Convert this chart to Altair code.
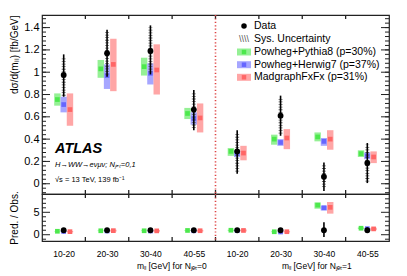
import altair as alt
import pandas as pd

# ---------------- data ----------------
bins = ["10-20", "20-30", "30-40", "40-55", "10-20", "20-30", "30-40", "40-55"]

data_val = [0.975, 1.17, 1.19, 0.665, 0.29, 0.61, 0.063, 0.186]
data_lo = [0.78, 0.96, 0.98, 0.48, 0.09, 0.43, -0.065, 0.006]
data_hi = [1.16, 1.38, 1.42, 0.84, 0.48, 0.79, 0.19, 0.365]
sys_lo = [0.79, 0.98, 1.00, 0.50, 0.11, 0.45, -0.03, 0.02]
sys_hi = [1.13, 1.36, 1.40, 0.82, 0.46, 0.77, 0.17, 0.35]

p8_val = [0.755, 1.03, 1.05, 0.63, 0.29, 0.40, 0.42, 0.27]
p8_lo = [0.70, 0.95, 0.97, 0.58, 0.25, 0.35, 0.38, 0.24]
p8_hi = [0.81, 1.11, 1.13, 0.68, 0.32, 0.44, 0.46, 0.30]
h7_val = [0.71, 0.97, 0.99, 0.585, 0.27, 0.37, 0.38, 0.25]
h7_lo = [0.64, 0.85, 0.89, 0.53, 0.24, 0.34, 0.34, 0.22]
h7_hi = [0.78, 1.07, 1.08, 0.64, 0.30, 0.40, 0.41, 0.28]
mg_val = [0.665, 1.07, 1.02, 0.59, 0.275, 0.41, 0.40, 0.24]
mg_lo = [0.52, 0.83, 0.80, 0.46, 0.21, 0.31, 0.305, 0.185]
mg_hi = [0.81, 1.30, 1.25, 0.72, 0.34, 0.49, 0.48, 0.29]

# ratio panel (Pred. / Obs.)
r_data_val = [1, 1, 1, 1, 1, 1, 1, 1]
r_data_lo = [0.82, 0.84, 0.84, 0.75, 0.5, 0.72, -0.5, 0.4]
r_data_hi = [1.18, 1.16, 1.16, 1.25, 1.5, 1.28, 2.8, 1.6]
r_p8_val = [0.77, 0.88, 0.88, 0.95, 1.0, 0.66, 6.6, 1.45]
r_p8_lo = [0.72, 0.81, 0.82, 0.87, 0.86, 0.57, 5.8, 1.30]
r_p8_hi = [0.83, 0.95, 0.95, 1.02, 1.10, 0.74, 7.2, 1.61]
r_h7_val = [0.73, 0.83, 0.83, 0.88, 0.93, 0.61, 6.0, 1.35]
r_h7_lo = [0.66, 0.73, 0.75, 0.80, 0.83, 0.56, 5.4, 1.18]
r_h7_hi = [0.80, 0.91, 0.91, 0.96, 1.03, 0.66, 6.5, 1.50]
r_mg_val = [0.68, 0.91, 0.86, 0.89, 0.95, 0.67, 6.1, 1.30]
r_mg_lo = [0.53, 0.71, 0.67, 0.69, 0.72, 0.51, 4.7, 1.00]
r_mg_hi = [0.83, 1.11, 1.05, 1.08, 1.17, 0.80, 7.3, 1.56]

models = ["Powheg+Pythia8 (p=30%)", "Powheg+Herwig7 (p=37%)", "MadgraphFxFx (p=31%)"]
main_major = [0, 0.2, 0.4, 0.6, 0.8, 1.0, 1.2, 1.4]
main_minor = [round(-0.08 + 0.04 * i, 2) for i in range(40)]
ratio_major = [0, 5]
ratio_minor = [-1, 1, 2, 3, 4, 6, 7, 8, 9]
boundaries = [1, 2, 3, 4, 5, 6, 7]
divider = [4]

# ---------------- style ----------------
FONT = "Liberation Sans"
W, H_MAIN, H_RATIO = 347, 179, 47
outer_cols = ["#95f095", "#a6a6ff", "#ffa6a6"]
inner_cols = ["#4de84d", "#6666ff", "#ff6666"]
offsets = [-0.145, 0.0, 0.145]
half_w = 0.074
x_scale_dom = [0, 8]
label_js = "[" + ",".join("'" + b + "'" for b in bins) + "]"

main_yaxis = alt.Axis(values=main_major, labelExpr="format(datum.value, '.1~f')",
                      ticks=False, domain=False, grid=False, labelFontSize=11,
                      labelPadding=3, labelFont=FONT, labelOverlap=False,
                      labelColor="black",
                      title="dσ/d(mₗₗ) [fb/GeV]", titleFont=FONT, titleFontSize=10,
                      titleFontWeight="normal", titleX=-28, titleY=0,
                      titleColor="black",
                      titleAngle=270, titleAlign="right", titleBaseline="middle")
ratio_yaxis = alt.Axis(values=ratio_major, labelExpr="format(datum.value, 'd')",
                       ticks=False, domain=False, grid=False, labelFontSize=11,
                       labelPadding=3, labelFont=FONT, labelOverlap=False,
                       labelColor="black",
                       title="Pred. / Obs.", titleFont=FONT, titleFontSize=10,
                       titleFontWeight="normal", titleX=-28, titleY=H_RATIO / 2,
                       titleColor="black",
                       titleAngle=270, titleAlign="center", titleBaseline="middle")
ratio_xaxis = alt.Axis(values=[i + 0.5 for i in range(8)],
                       labelExpr=label_js + "[floor(datum.value)]",
                       ticks=False, domain=False, grid=False, labelFontSize=8.5,
                       labelFont=FONT, labelPadding=8, title=None,
                       labelOverlap=False, labelColor="black")


def model_frame(vals, los, his, k):
    return pd.DataFrame({
        "xc": [i + 0.5 + offsets[k] for i in range(8)],
        "x1": [i + 0.5 + offsets[k] - half_w for i in range(8)],
        "x2": [i + 0.5 + offsets[k] + half_w for i in range(8)],
        "val": vals, "lo": los, "hi": his,
    })


def panel(ydom, preds, dval, dlo, dhi, slo, shi, major, minor, height, xax, yax):
    xs = alt.Scale(domain=x_scale_dom, nice=False, zero=False)
    ys = alt.Scale(domain=ydom, nice=False, zero=False)

    def X(f):
        return alt.X(f, scale=xs, axis=xax)

    def Y(f):
        return alt.Y(f, scale=ys, axis=yax)

    layers = []
    for k, (v, lo, hi) in enumerate(preds):
        df = model_frame(v, lo, hi, k)
        base = alt.Chart(df)
        layers.append(base.mark_rect(color=outer_cols[k]).encode(
            x=X("x1:Q"), x2="x2:Q", y=Y("lo:Q"), y2="hi:Q"))
        layers.append(base.mark_square(size=22, color=inner_cols[k], opacity=1).encode(
            x=X("xc:Q"), y=Y("val:Q")))
    ddf = pd.DataFrame({"xc": [i + 0.5 for i in range(8)], "val": dval,
                        "lo": dlo, "hi": dhi})
    if slo is not None:
        sdf = pd.DataFrame({"xc": [i + 0.5 for i in range(8)], "lo": slo, "hi": shi})
        layers.append(alt.Chart(sdf).mark_rule(
            strokeWidth=4, strokeDash=[0.8, 1.8], color="#666", strokeCap="butt").encode(
            x=X("xc:Q"), y=Y("lo:Q"), y2="hi:Q"))
    layers.append(alt.Chart(ddf).mark_rule(strokeWidth=1.6, color="black").encode(
        x=X("xc:Q"), y=Y("lo:Q"), y2="hi:Q"))
    layers.append(alt.Chart(ddf).mark_circle(size=34, color="black", opacity=1).encode(
        x=X("xc:Q"), y=Y("val:Q")))
    # ticks (inward, ROOT style)
    for vals_, ln in ((major, 8), (minor, 4)):
        tdf = pd.DataFrame({"v": vals_})
        layers.append(alt.Chart(tdf).mark_rule(color="#222", strokeWidth=1).encode(
            y=Y("v:Q"), x=alt.value(0), x2=alt.value(ln)))
        layers.append(alt.Chart(tdf).mark_rule(color="#222", strokeWidth=1).encode(
            y=Y("v:Q"), x=alt.value(W), x2=alt.value(W - ln)))
    bdf = pd.DataFrame({"b": boundaries})
    layers.append(alt.Chart(bdf).mark_rule(color="#222", strokeWidth=1.3).encode(
        x=X("b:Q"), y=alt.value(0), y2=alt.value(4)))
    layers.append(alt.Chart(bdf).mark_rule(color="#222", strokeWidth=1.3).encode(
        x=X("b:Q"), y=alt.value(height), y2=alt.value(height - 4)))
    layers.append(alt.Chart(pd.DataFrame({"d": divider})).mark_rule(
        color="#dd4444", strokeWidth=1.6, strokeDash=[1.2, 2.2]).encode(
        x=X("d:Q"), y=alt.value(0), y2=alt.value(height)))
    return layers


def text(t, x, y, size, **kw):
    return alt.Chart(pd.DataFrame({"t": [t]})).mark_text(
        align=kw.pop("align", "left"), baseline=kw.pop("baseline", "middle"),
        font=FONT, fontSize=size, **kw).encode(
        x=alt.value(x), y=alt.value(y), text="t:N")


# ---------------- main panel ----------------
main_layers = panel([-0.092, 1.513],
                    [(p8_val, p8_lo, p8_hi), (h7_val, h7_lo, h7_hi), (mg_val, mg_lo, mg_hi)],
                    data_val, data_lo, data_hi, sys_lo, sys_hi,
                    main_major, main_minor, H_MAIN, None, main_yaxis)

ann = [
    text("ATLAS", 13, 134, 14.5, fontStyle="italic", fontWeight="bold", color="black"),
    text("H→WW→eνμν; Nⱼₑₜ=0,1", 13, 150, 7.5, fontStyle="italic", color="black"),
    text("√s = 13 TeV, 139 fb⁻¹", 13, 165, 7.5, color="black"),
]
leg_x, txt_x = 202, 212
rows = [11, 23.7, 37, 49.7, 62.3]
leg = [
    alt.Chart(pd.DataFrame({"t": ["Data"]})).mark_circle(size=30, color="black", opacity=1).encode(
        x=alt.value(leg_x), y=alt.value(rows[0])),
    text("Data", txt_x, rows[0], 10.5, color="black"),
    text("\\\\\\\\", leg_x, rows[1], 9, align="center", color="#555"),
    text("Sys. Uncertainty", txt_x, rows[1], 10.5, color="black"),
]
for k, m in enumerate(models):
    leg.append(alt.Chart(pd.DataFrame({"t": [m]})).mark_rect(color=outer_cols[k]).encode(
        x=alt.value(leg_x - 7), x2=alt.value(leg_x + 7),
        y=alt.value(rows[2 + k] - 3.5), y2=alt.value(rows[2 + k] + 3.5)))
    leg.append(alt.Chart(pd.DataFrame({"t": [m]})).mark_square(size=20, color=inner_cols[k], opacity=1).encode(
        x=alt.value(leg_x), y=alt.value(rows[2 + k])))
    leg.append(text(m, txt_x, rows[2 + k], 10.5, color="black"))

main = alt.layer(*main_layers, *ann, *leg).properties(width=W, height=H_MAIN)

# ---------------- ratio panel ----------------
ratio_layers = panel([-1.4, 9.08],
                     [(r_p8_val, r_p8_lo, r_p8_hi), (r_h7_val, r_h7_lo, r_h7_hi),
                      (r_mg_val, r_mg_lo, r_mg_hi)],
                     r_data_val, r_data_lo, r_data_hi, None, None,
                     ratio_major, ratio_minor, H_RATIO, ratio_xaxis, ratio_yaxis)

xt = [
    text("mₗₗ [GeV] for Nⱼₑₜ=0", 95, 72, 8.5, color="black"),
    text("mₗₗ [GeV] for Nⱼₑₜ=1", 240, 72, 8.5, color="black"),
]

ratio = alt.layer(*ratio_layers, *xt).properties(width=W, height=H_RATIO)

chart = alt.vconcat(main, ratio, spacing=0, bounds="flush").properties(
    padding={"left": 0, "top": 5, "right": 5, "bottom": 0}
).configure_view(stroke="#222", strokeWidth=1.2).configure_axis(grid=False)

chart.save("out.html", embed_options={"renderer": "svg", "actions": False})
